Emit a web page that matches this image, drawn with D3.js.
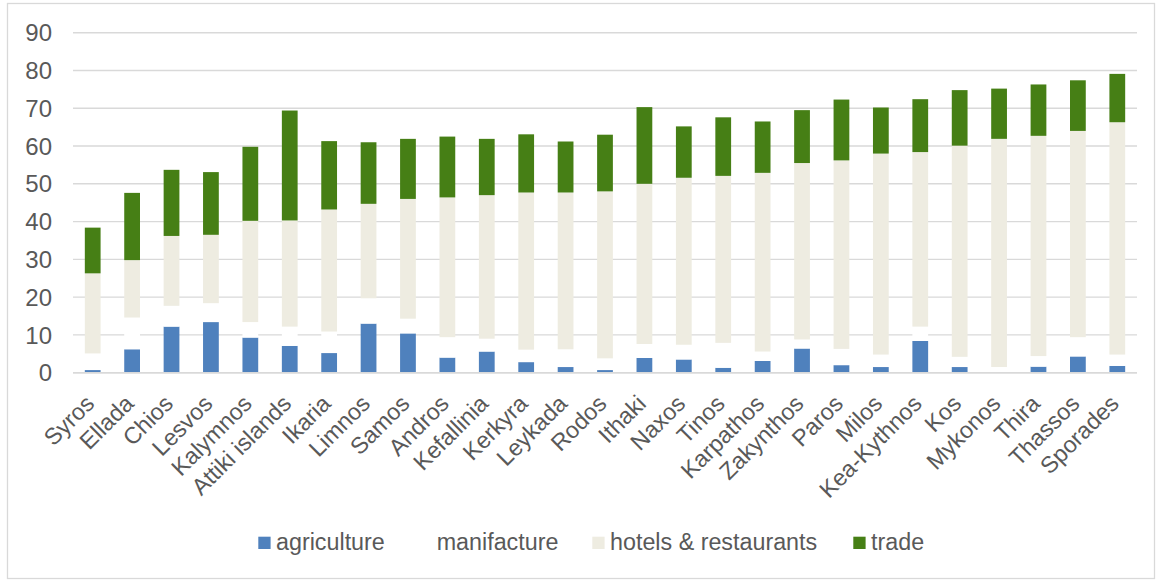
<!DOCTYPE html>
<html>
<head>
<meta charset="utf-8">
<script src="https://cdn.jsdelivr.net/npm/d3@7"></script>
<style>
  html, body { margin: 0; padding: 0; background: #ffffff; }
  svg { display: block; font-family: "Liberation Sans", Arial, sans-serif; }
</style>
</head>
<body>
<svg id="chart" width="1157" height="581"></svg>
<script>
const categories = ["Syros","Ellada","Chios","Lesvos","Kalymnos","Attiki islands","Ikaria","Limnos","Samos","Andros","Kefallinia","Kerkyra","Leykada","Rodos","Ithaki","Naxos","Tinos","Karpathos","Zakynthos","Paros","Milos","Kea-Kythnos","Kos","Mykonos","Thira","Thassos","Sporades"];
const agriculture = [0.7,6.2,12.2,13.4,9.3,7.1,5.2,13.0,10.4,4.0,5.6,2.8,1.5,0.7,3.9,3.5,1.3,3.1,6.4,2.0,1.5,8.4,1.5,0.0,1.6,4.3,1.8];
const manifacture = [4.4,8.4,5.5,5.0,4.1,5.1,5.7,6.7,3.9,5.4,3.4,3.3,4.7,3.1,3.7,3.9,6.6,2.5,2.4,4.3,3.3,3.8,2.7,1.5,2.8,5.1,3.0];
const hotels = [21.2,15.2,18.5,18.1,26.8,28.1,32.3,25.0,31.7,37.0,38.0,41.6,41.5,44.2,42.4,44.2,44.2,47.3,46.7,49.9,53.2,46.2,55.9,60.4,58.3,54.6,61.5];
const trade = [12.1,17.8,17.5,16.6,19.6,29.1,18.1,16.3,15.9,16.1,14.9,15.4,13.5,15.0,20.3,13.6,15.5,13.6,14.0,16.1,12.2,14.0,14.7,13.3,13.6,13.4,12.8];
const seriesNames = ["agriculture","manifacture","hotels & restaurants","trade"];
const seriesColors = ["#4f81bd","#ffffff","#eeece1","#467f15"];
const yTicks = [0,10,20,30,40,50,60,70,80,90];

(function () {
const rows = categories.map((c, i) => ({
  cat: c,
  "agriculture": agriculture[i],
  "manifacture": manifacture[i],
  "hotels & restaurants": hotels[i],
  "trade": trade[i]
}));

const svg = d3.select("#chart");
const plotLeft = 73, plotRight = 1137, plotTop = 32.7, plotBottom = 372.7;

// outer border
svg.append("rect").attr("x", 7.5).attr("y", 3.5).attr("width", 1147).attr("height", 575)
  .attr("fill", "#ffffff").attr("stroke", "#d9d9d9").attr("stroke-width", 1.3);

const x = d3.scaleBand().domain(categories).range([plotLeft, plotRight]).paddingInner(0.6).paddingOuter(0.3);
const y = d3.scaleLinear().domain([0, 90]).range([plotBottom, plotTop]);

// gridlines
svg.append("g").selectAll("line").data(yTicks).join("line")
  .attr("x1", plotLeft).attr("x2", plotRight)
  .attr("y1", d => y(d)).attr("y2", d => y(d))
  .attr("stroke", "#d9d9d9").attr("stroke-width", 1.4);

// y tick labels
svg.append("g").selectAll("text").data(yTicks).join("text")
  .attr("x", 52).attr("y", d => y(d)).attr("dy", "0.36em")
  .attr("text-anchor", "end").attr("font-size", "24px").attr("fill", "#595959")
  .text(d => d);

// stacked bars
const stacked = d3.stack().keys(seriesNames)(rows);
svg.append("g").selectAll("g").data(stacked).join("g")
  .attr("fill", (d, i) => seriesColors[i])
  .selectAll("rect").data(d => d).join("rect")
  .attr("x", d => x(d.data.cat))
  .attr("width", x.bandwidth())
  .attr("y", d => y(d[1]))
  .attr("height", d => Math.max(0, y(d[0]) - y(d[1])));

// x axis baseline
svg.append("line").attr("x1", plotLeft).attr("x2", plotRight).attr("y1", y(0)).attr("y2", y(0))
  .attr("stroke", "#d9d9d9").attr("stroke-width", 1.4);

// category labels
svg.append("g").selectAll("text").data(categories).join("text")
  .attr("transform", d => `translate(${x(d) + x.bandwidth() / 2 + 3},405) rotate(-45)`)
  .attr("text-anchor", "end").attr("font-size", "23.3px").attr("fill", "#595959")
  .text(d => d);

// legend
const legendItems = [
  { name: seriesNames[0], color: seriesColors[0], sx: 258.3, tx: 276 },
  { name: seriesNames[1], color: seriesColors[1], sx: 419, tx: 436.7 },
  { name: seriesNames[2], color: seriesColors[2], sx: 592.3, tx: 610 },
  { name: seriesNames[3], color: seriesColors[3], sx: 853.3, tx: 871 }
];
const lg = svg.append("g");
lg.selectAll("rect").data(legendItems).join("rect")
  .attr("x", d => d.sx).attr("y", 536.7).attr("width", 12.3).attr("height", 12.3)
  .attr("fill", d => d.color);
lg.selectAll("text").data(legendItems).join("text")
  .attr("x", d => d.tx).attr("y", 550).attr("font-size", "23.3px").attr("fill", "#595959")
  .text(d => d.name);
})();
</script>
</body>
</html>
